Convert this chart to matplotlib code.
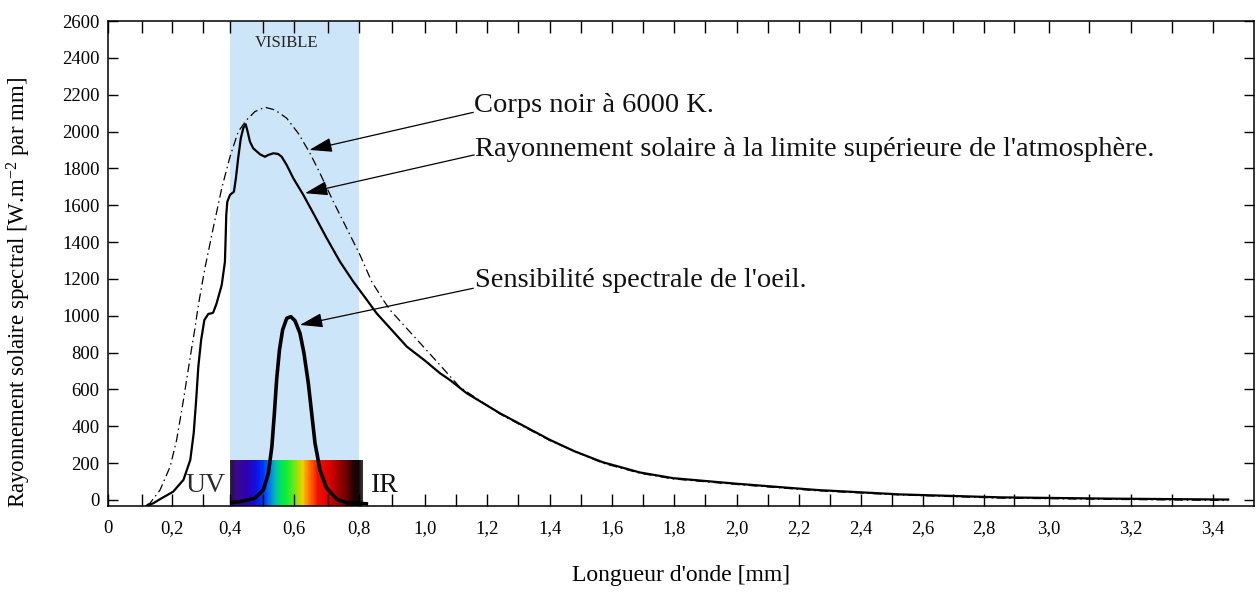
import numpy as np
import matplotlib
matplotlib.use("Agg")
import matplotlib.pyplot as plt
from matplotlib.colors import LinearSegmentedColormap

plt.rcParams['font.family'] = ['Liberation Serif', 'DejaVu Serif']
plt.rcParams['mathtext.default'] = 'regular'

# ---------------- data ----------------
solar_x = [0.116, 0.138, 0.160, 0.203, 0.236, 0.258, 0.269, 0.277, 0.284, 0.293,
           0.304, 0.319, 0.331, 0.337, 0.350, 0.369, 0.381, 0.384, 0.386, 0.390,
           0.400, 0.412, 0.418, 0.425, 0.433, 0.441, 0.448, 0.454, 0.461, 0.471,
           0.492, 0.507, 0.518, 0.534, 0.549, 0.560, 0.576, 0.597, 0.627, 0.657,
           0.697, 0.739, 0.781, 0.823, 0.853, 0.945, 1.000, 1.048, 1.080, 1.134,
           1.241, 1.401, 1.480, 1.570, 1.690, 1.797, 2.000, 2.257, 2.525, 2.854,
           3.150, 3.437]
solar_y = [-33, -18, 4, 45, 109, 217, 362, 543, 724, 868,
           977, 1010, 1013, 1017, 1068, 1167, 1293, 1438, 1547, 1619,
           1656, 1673, 1746, 1855, 1963, 2021, 2039, 1999, 1945, 1909,
           1876, 1863, 1873, 1882, 1878, 1863, 1818, 1746, 1656, 1556,
           1421, 1293, 1185, 1086, 1013, 832, 756, 688, 651, 579,
           470, 326, 264, 205, 149, 118, 88, 54, 30, 14,
           7, 2]

bb_x = [0.116, 0.127, 0.160, 0.193, 0.214, 0.236, 0.258, 0.274, 0.280, 0.287,
        0.306, 0.337, 0.369, 0.400, 0.425, 0.451, 0.476, 0.507, 0.539, 0.576,
        0.612, 0.647, 0.677, 0.718, 0.760, 0.802, 0.838, 0.873, 0.894, 0.995,
        1.112, 1.241, 1.401, 1.570, 1.690, 1.797, 2.000, 2.257, 2.525, 2.854,
        3.150, 3.437]
bb_y = [-27, -18, 54, 181, 326, 543, 778, 941, 1013, 1086,
        1258, 1475, 1692, 1863, 1999, 2063, 2108, 2132, 2117, 2072,
        1990, 1882, 1773, 1619, 1475, 1330, 1185, 1086, 1031, 832,
        612, 466, 322, 200, 145, 114, 84, 50, 27, 10,
        3, -3]

eye_x = [0.400, 0.431, 0.476, 0.502, 0.518, 0.529, 0.537, 0.544, 0.553, 0.563,
         0.576, 0.589, 0.602, 0.617, 0.629, 0.642, 0.652, 0.662, 0.677, 0.697,
         0.729, 0.760, 0.802, 0.827]
eye_y = [-15, -9, 9, 54, 145, 289, 471, 651, 814, 923,
         986, 995, 973, 905, 796, 633, 471, 308, 163, 64,
         4, -15, -18, -22]

visible_range = [0.4, 0.8]
spectrum_range = [0.4, 0.81]
spectrum_top = 217

spectrum_stops = [0.00, 0.015, 0.04, 0.12, 0.19, 0.24, 0.29, 0.32, 0.35, 0.38,
                  0.43, 0.48, 0.52, 0.55, 0.58, 0.62, 0.66, 0.74, 0.82, 0.89,
                  0.94, 0.975, 1.00]
spectrum_colors = ['#2e2438', '#2a1050', '#3a0a8a', '#3000b0', '#1010e0', '#0030ff',
                   '#0070f0', '#00a0d0', '#00c8a0', '#00e060', '#10f030', '#60e820',
                   '#b0e000', '#f0d000', '#ff9000', '#ff5000', '#f01000', '#e00000',
                   '#a00000', '#600000', '#200000', '#100808', '#3a3030']

xtick_values = [0.0, 0.2, 0.4, 0.6, 0.8, 1.0, 1.2, 1.4, 1.6, 1.8, 2.0, 2.2, 2.4,
                2.6, 2.8, 3.0, 3.2, 3.4]
xtick_labels = ['0', '0,2', '0,4', '0,6', '0,8', '1,0', '1,2', '1,4', '1,6', '1,8',
                '2,0', '2,2', '2,4', '2,6', '2,8', '3,0', '3,2', '3,4']
xminor_values = [0.1, 0.3, 0.5, 0.7, 0.9, 1.1, 1.3, 1.5, 1.7, 1.9, 2.1, 2.3, 2.5,
                 2.7, 2.9, 3.1, 3.3]
ytick_values = [0, 200, 400, 600, 800, 1000, 1200, 1400, 1600, 1800, 2000, 2200,
                2400, 2600]

note_texts = ["Corps noir à 6000 K.",
              "Rayonnement solaire à la limite supérieure de l'atmosphère.",
              "Sensibilité spectrale de l'oeil."]
note_text_x = [1.158, 1.161, 1.160]
note_text_y = [2106, 1869, 1155]
note_start = [(1.155, 2104), (1.158, 1873), (1.155, 1149)]
note_tip = [(0.645, 1900), (0.632, 1665), (0.617, 950)]

# ---------------- irregular axis of the reference (tick value -> pixel offset) ----------------
axis_vals = [0.0, 0.1, 0.2, 0.3, 0.4, 0.5, 0.6, 0.7, 0.8, 0.9, 1.0, 2.5, 2.9,
             3.0, 3.1, 3.2, 3.3, 3.4, 3.5]
axis_pix = [0.0, 33.7, 64.3, 95.3, 122.0, 154.7, 186.3, 219.7, 251.3, 284.0, 317.0,
            784.3, 906.0, 941.0, 981.0, 1023.0, 1064.0, 1105.0, 1146.0]
AV = np.array(axis_vals)
AP = np.array(axis_pix)


def fwd(x):
    x = np.asarray(x, dtype=float)
    y = np.interp(x, AV, AP)
    y = np.where(x < AV[0], AP[0] + (x - AV[0]) * 317.0, y)
    y = np.where(x > AV[-1], AP[-1] + (x - AV[-1]) * 410.0, y)
    return y


def inv(u):
    u = np.asarray(u, dtype=float)
    x = np.interp(u, AP, AV)
    x = np.where(u < AP[0], AV[0] + (u - AP[0]) / 317.0, x)
    x = np.where(u > AP[-1], AV[-1] + (u - AP[-1]) / 410.0, x)
    return x


W, H = 1258, 597
fig = plt.figure(figsize=(W / 100, H / 100), dpi=100)
ax = fig.add_axes([108 / W, 1 - 506 / H, (1254 - 108) / W, (506 - 21) / H])
ax.set_xscale('function', functions=(fwd, inv))
ax.set_xlim(0, 3.5)
ax.set_ylim(-33, 2600)

# visible band
ax.axvspan(visible_range[0], visible_range[1], color='#CDE5F8', zorder=0, lw=0)

# spectrum bar
cmap = LinearSegmentedColormap.from_list('spec', list(zip(spectrum_stops, spectrum_colors)))
xe = np.linspace(spectrum_range[0], spectrum_range[1], 300)
ye = np.array([-33, spectrum_top])
C = np.linspace(0, 1, len(xe) - 1)[None, :]
ax.pcolormesh(xe, ye, C, cmap=cmap, shading='flat', zorder=1, rasterized=True)

# curves
ax.plot(bb_x, bb_y, color='black', lw=0.9, linestyle=(0, (7, 3, 1.2, 3)), zorder=3)
ax.plot(solar_x, solar_y, color='black', lw=1.6, zorder=4, solid_joinstyle='round')
ax.plot(eye_x, eye_y, color='black', lw=2.6, zorder=4, solid_capstyle='butt',
        solid_joinstyle='round')

# texts
ax.text(0.576, 2482, 'VISIBLE', ha='center', va='center', fontsize=12, color='#222222')
ax.text(0.241, 45, 'UV', ha='left', va='baseline', fontsize=20, color='#2a2a30')
ax.text(0.835, 45, 'IR', ha='left', va='baseline', fontsize=20, color='#111111')

for txt, tx, ty, st, tp in zip(note_texts, note_text_x, note_text_y, note_start, note_tip):
    ax.text(tx, ty, txt, ha='left', va='baseline', fontsize=20.5, color='#111111', zorder=5)
    ax.annotate('', xy=tp, xytext=st,
                arrowprops=dict(arrowstyle='-|>,head_length=0.7,head_width=0.22',
                                color='black', lw=0.9, shrinkA=0, shrinkB=0,
                                mutation_scale=20),
                zorder=5)

# ticks
ax.set_xticks(xtick_values)
ax.set_xticklabels(xtick_labels)
ax.set_xticks(xminor_values, minor=True)
ax.set_yticks(ytick_values)
ax.set_yticklabels([str(v) for v in ytick_values])
ax.tick_params(axis='x', which='both', direction='in', length=8.5, width=1.0,
               top=True, bottom=True, labelsize=13.5, pad=10, colors='black')
ax.tick_params(axis='y', which='both', direction='in', length=7.5, width=1.0,
               left=True, right=True, labelsize=13.5, pad=6)
for s in ax.spines.values():
    s.set_linewidth(1.1)
    s.set_zorder(6)

ax.set_xlabel('Longueur d\'onde [mm]', fontsize=17)
ax.xaxis.set_label_coords(0.5, -0.122)
ax.set_ylabel(r"Rayonnement solaire spectral [W.m$^{-2}$ par mm]", fontsize=16.5)
ax.yaxis.set_label_coords(-0.0654, 0.44)

fig.savefig('out.png', dpi=100)
